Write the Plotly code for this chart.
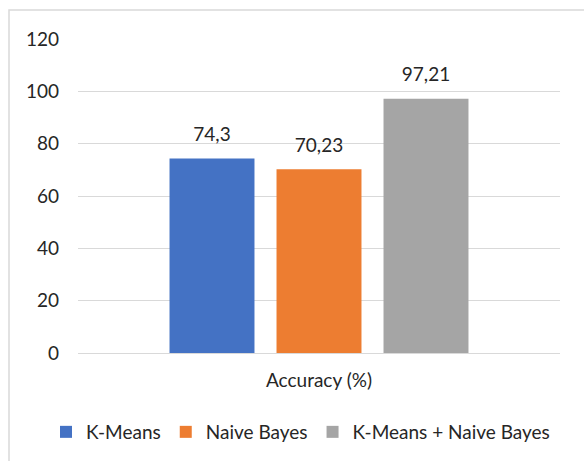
import plotly.graph_objects as go

categories = ["Accuracy (%)"]
series_names = ["K-Means", "Naive Bayes", "K-Means + Naive Bayes"]
series_values = [[74.3], [70.23], [97.21]]
colors = ["#4472C4", "#ED7D31", "#A5A5A5"]
y_ticks = [0, 20, 40, 60, 80, 100, 120]

W, H = 584, 461
L, R, T, B = 78, 24, 39, 108
pw, ph = W - L - R, H - T - B

font_family = "Lato, 'Open Sans', sans-serif"
txt_color = "#262626"

fig = go.Figure()
for i, (name, vals, col) in enumerate(zip(series_names, series_values, colors)):
    fig.add_trace(go.Bar(
        x=categories, y=vals, name=name, marker=dict(color=col, line=dict(width=0)),
        offsetgroup=f"g{i}",
    ))
for i, vals in enumerate(series_values):
    labels = [str(v).replace(".", ",") for v in vals]
    fig.add_trace(go.Scatter(
        x=categories, y=vals, mode="markers+text", text=labels, textposition="top center",
        marker=dict(size=19, color="rgba(0,0,0,0)"), offsetgroup=f"g{i}",
        textfont=dict(size=19, color=txt_color, family=font_family),
        showlegend=False, hoverinfo="skip", cliponaxis=False,
    ))

def px_x(px):
    return (px - L) / pw

def px_y(py):
    return (H - B - py) / ph

fig.update_layout(
    width=W, height=H,
    margin=dict(l=L, r=R, t=T, b=B, autoexpand=False),
    paper_bgcolor="white", plot_bgcolor="white",
    barmode="group", bargap=0.334, bargroupgap=0.206,
    scattermode="group", scattergap=0.334,
    font=dict(family=font_family, size=19, color=txt_color),
    showlegend=True,
    legend=dict(orientation="h", x=px_x(46), xanchor="left", y=px_y(432), yanchor="middle",
                font=dict(size=19, color=txt_color), itemwidth=30, bgcolor="rgba(0,0,0,0)"),
    xaxis=dict(showgrid=False, showline=False, zeroline=False, ticks="",
               ticklabelstandoff=14, tickfont=dict(size=19, color=txt_color)),
    yaxis=dict(range=[0, 120], tickvals=y_ticks, showgrid=True, gridcolor="#D9D9D9", gridwidth=1,
               zeroline=True, zerolinecolor="#D9D9D9", zerolinewidth=1, showline=False, ticks="",
               ticklabelstandoff=18, tickfont=dict(size=19, color=txt_color)),
    shapes=[dict(type="rect", xref="paper", yref="paper",
                 x0=px_x(9), x1=px_x(600), y0=px_y(480), y1=px_y(10),
                 line=dict(color="#D9D9D9", width=1.5), fillcolor="rgba(0,0,0,0)", layer="below")],
)

fig.write_html("out.html")
